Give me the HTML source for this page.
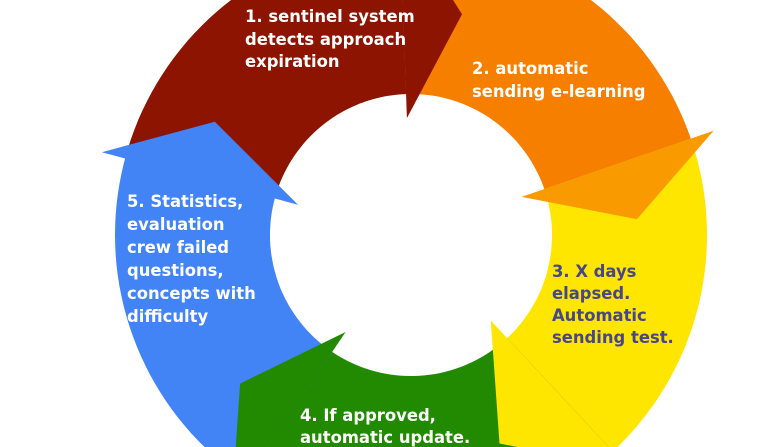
<!DOCTYPE html>
<html><head><meta charset="utf-8"><style>
html,body{margin:0;padding:0;background:#fff;overflow:hidden;width:767px;height:447px}
svg{display:block}
text{font-family:"DejaVu Sans","Liberation Sans",sans-serif;font-weight:bold;font-size:16.4px}
</style></head><body>
<svg id="s" width="767" height="447" viewBox="0 0 767 447" xmlns="http://www.w3.org/2000/svg">
<g id="g"></g>
<g fill="#fff">
<text x="245" y="22">1. sentinel system</text>
<text x="245" y="45">detects approach</text>
<text x="245" y="67">expiration</text>
<text x="472" y="74">2. automatic</text>
<text x="472" y="97">sending e-learning</text>
<text x="300" y="421">4. If approved,</text>
<text x="300" y="443">automatic update.</text>
<text x="127" y="207">5. Statistics,</text>
<text x="127" y="230">evaluation</text>
<text x="127" y="253">crew failed</text>
<text x="127" y="276">questions,</text>
<text x="127" y="299">concepts with</text>
<text x="127" y="322">difficulty</text>
</g>
<g fill="#46468a">
<text x="552" y="277">3. X days</text>
<text x="552" y="299">elapsed.</text>
<text x="552" y="321">Automatic</text>
<text x="552" y="343">sending test.</text>
</g>
</svg>
<script>
var cx=411,cy=235,ri=141,ro=296,ext=24,rm=(ri+ro)/2;
function P(r,a){a=a*Math.PI/180;return (cx+r*Math.cos(a)).toFixed(1)+","+(cy+r*Math.sin(a)).toFixed(1);}
function body(s,e,col){
  var pts=[];
  for(var a=s;a<e;a+=2)pts.push(P(ro,a));
  pts.push(P(ro,e));
  for(var a=e;a>s;a-=2)pts.push(P(ri,a));
  pts.push(P(ri,s));
  return '<polygon fill="'+col+'" points="'+pts.join(" ")+'"/>';
}
function head(e,d,col){
  return '<polygon fill="'+col+'" points="'+[P(ro+ext,e),P(rm+8,e+d),P(ri-ext,e)].join(" ")+'"/>';
}
var S=[[-165,-92,"#8c1400","#8c1400",15],[-92,-19,"#f77f00","#f89a00",15],[-19,47,"#ffe600","#ffe600",20],[47,124,"#218a00","#218a00",15],[124,195,"#4283f6","#4283f6",15]];
var html="";
S.forEach(function(x){html+=body(x[0],x[1]+0.5,x[2]);});
S.forEach(function(x){html+=head(x[1],x[4],x[3]);});
document.getElementById("g").innerHTML=html;
</script>
</body></html>
